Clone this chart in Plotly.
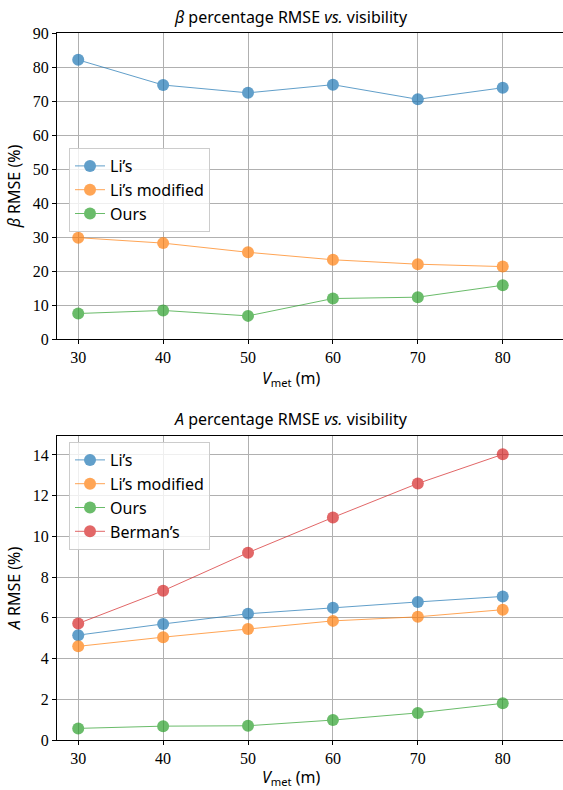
import plotly.graph_objects as go

visibility = [30, 40, 50, 60, 70, 80]

beta_lis = [82.1, 74.7, 72.4, 74.8, 70.5, 73.9]
beta_lis_mod = [29.8, 28.2, 25.5, 23.3, 22.0, 21.3]
beta_ours = [7.5, 8.4, 6.8, 11.9, 12.3, 15.8]

a_lis = [5.15, 5.7, 6.2, 6.5, 6.78, 7.05]
a_lis_mod = [4.6, 5.05, 5.45, 5.85, 6.05, 6.4]
a_ours = [0.57, 0.68, 0.7, 0.98, 1.33, 1.8]
a_berman = [5.72, 7.33, 9.2, 10.93, 12.6, 14.03]

beta_yticks = [0, 10, 20, 30, 40, 50, 60, 70, 80, 90]
a_yticks = [0, 2, 4, 6, 8, 10, 12, 14]

C_BLUE = "#1f77b4"
C_ORANGE = "#ff7f0e"
C_GREEN = "#2ca02c"
C_RED = "#d62728"

SERIF = "Liberation Serif"
SANS = "Noto Sans"

fig = go.Figure()

def add(x, y, name, color, xa, ya, legend):
    fig.add_trace(go.Scatter(
        x=x, y=y, name=name, mode="lines+markers",
        line=dict(color=color, width=1),
        marker=dict(color=color, size=12, line=dict(width=0)),
        opacity=0.7, xaxis=xa, yaxis=ya, legend=legend))

add(visibility, beta_lis, "Li’s", C_BLUE, "x", "y", "legend")
add(visibility, beta_lis_mod, "Li’s modified", C_ORANGE, "x", "y", "legend")
add(visibility, beta_ours, "Ours", C_GREEN, "x", "y", "legend")

add(visibility, a_lis, "Li’s", C_BLUE, "x2", "y2", "legend2")
add(visibility, a_lis_mod, "Li’s modified", C_ORANGE, "x2", "y2", "legend2")
add(visibility, a_ours, "Ours", C_GREEN, "x2", "y2", "legend2")
add(visibility, a_berman, "Berman’s", C_RED, "x2", "y2", "legend2")

H_PLOT = 707.0
W_PLOT = 506.0
top_dom = [(740 - 339) / H_PLOT, 1.0]
bot_dom = [0.0, (740 - 436) / H_PLOT]
xc = (291 - 57) / W_PLOT

xcommon = dict(
    range=[27.5, 87.1], tickvals=visibility, showgrid=True,
    gridcolor="#b0b0b0", gridwidth=1, showline=True, linecolor="black",
    linewidth=1.2, mirror=True, ticks="outside", ticklen=4, tickcolor="black",
    tickfont=dict(family=SERIF, size=16, color="black"), zeroline=False,
    automargin=False,
)
ycommon = dict(
    showgrid=True, gridcolor="#b0b0b0", gridwidth=1, showline=True,
    linecolor="black", linewidth=1.2, mirror=False, ticks="outside",
    ticklen=4, tickcolor="black", zeroline=False, automargin=False,
    tickfont=dict(family=SERIF, size=16, color="black"),
)

legend_common = dict(
    bgcolor="rgba(255,255,255,0.8)", bordercolor="#cccccc", borderwidth=1,
    font=dict(family=SANS, size=16, color="black"), xanchor="left", yanchor="top",
    tracegroupgap=0, itemwidth=30,
)

def label(text, y, yshift, size=16):
    return dict(text=text, xref="paper", yref="paper", x=xc, y=y, yshift=yshift,
                xanchor="center", yanchor="middle", showarrow=False,
                font=dict(family=SANS, size=size, color="black"))

fig.update_layout(
    width=563, height=790,
    margin=dict(l=57, r=0, t=33, b=50, autoexpand=False),
    plot_bgcolor="white", paper_bgcolor="white",
    showlegend=True,
    xaxis=dict(domain=[0, 1], anchor="y", **xcommon),
    yaxis=dict(domain=top_dom, anchor="x", range=[0, 90], tickvals=beta_yticks,
               title=dict(text="<i>β</i> RMSE (%)", font=dict(family=SANS, size=16, color="black"), standoff=8),
               **ycommon),
    xaxis2=dict(domain=[0, 1], anchor="y2", **xcommon),
    yaxis2=dict(domain=bot_dom, anchor="x2", range=[0, 14.93], tickvals=a_yticks,
                title=dict(text="<i>A</i> RMSE (%)", font=dict(family=SANS, size=16, color="black"), standoff=8),
                **ycommon),
    legend=dict(x=(69 - 57) / W_PLOT, y=(740 - 148) / H_PLOT, **legend_common),
    legend2=dict(x=(69 - 57) / W_PLOT, y=(740 - 442) / H_PLOT, **legend_common),
    annotations=[
        label("<i>β</i> percentage RMSE <i>vs.</i> visibility", 1.0, 16),
        label("<i>A</i> percentage RMSE <i>vs.</i> visibility", bot_dom[1], 17),
        label("<i>V</i><sub>met</sub> (m)", top_dom[0], -40),
        label("<i>V</i><sub>met</sub> (m)", 0.0, -37),
    ],
)

post = ("document.body.style.margin='0';document.body.style.padding='0';"
        "document.body.style.overflow='hidden';"
        "var gd=document.getElementById('{plot_id}');"
        "Plotly.relayout(gd,{width:563,height:790});")

fig.write_html("out.html", post_script=post,
               config={"responsive": False, "displayModeBar": False})
